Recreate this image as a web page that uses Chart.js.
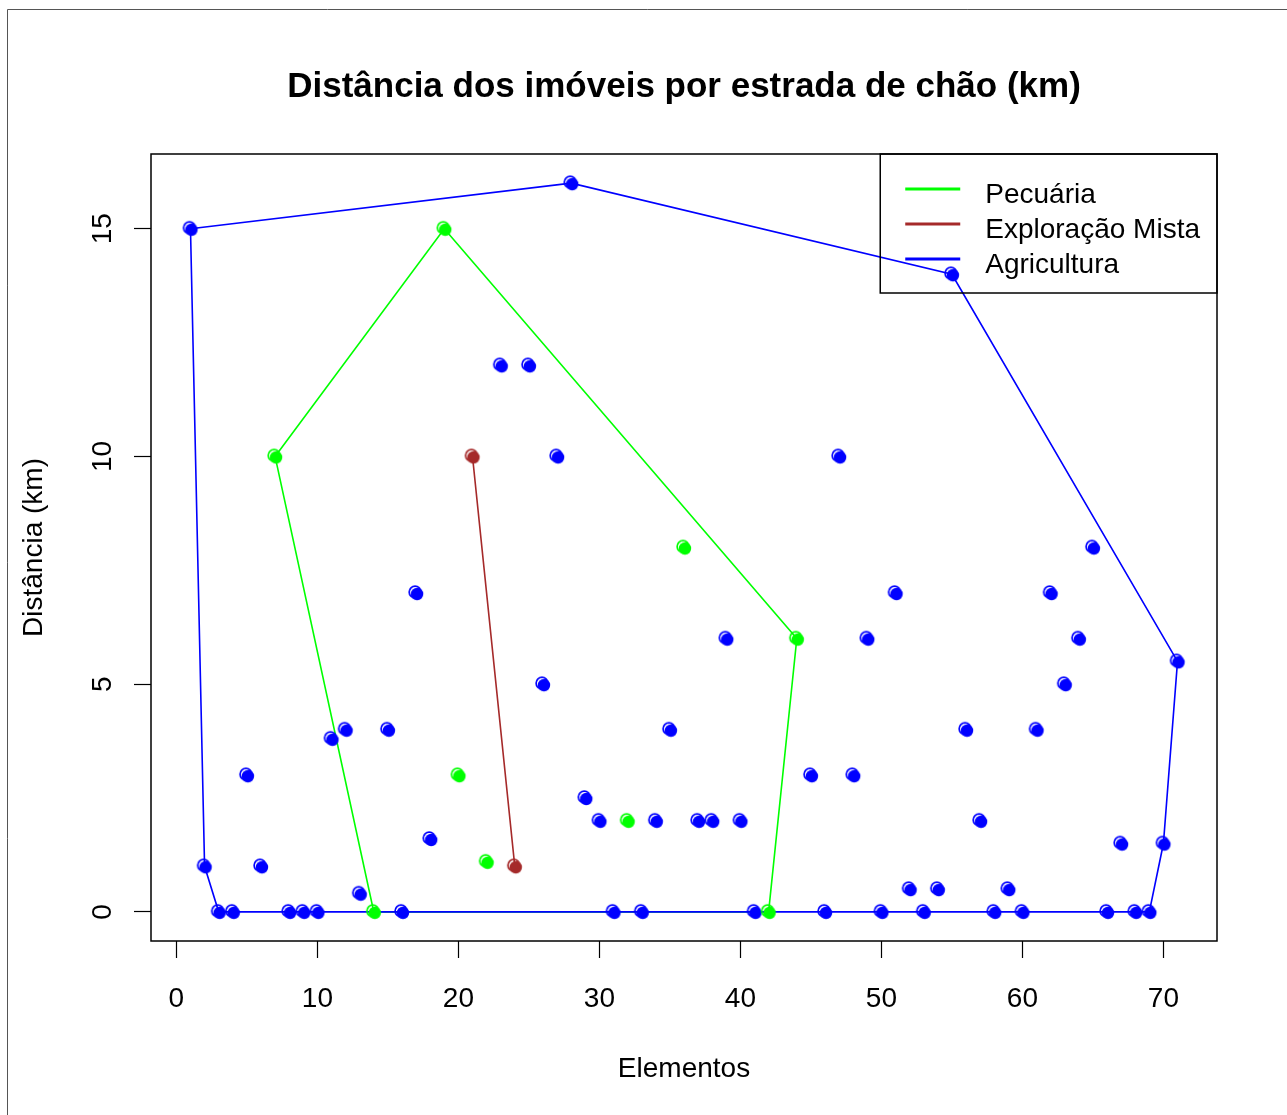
<!DOCTYPE html>
<html>
<head>
<meta charset="utf-8">
<title>Distância dos imóveis por estrada de chão (km)</title>
<script src="https://cdn.jsdelivr.net/npm/chart.js@4/dist/chart.umd.min.js"></script>
<style>
  html, body { margin: 0; padding: 0; background: #fff; }
  #wrap { position: relative; width: 1287px; height: 1115px; }
  canvas { display: block; }
</style>
</head>
<body>
<div id="wrap"><canvas id="c" width="1287" height="1115"></canvas></div>
<script>
// Elemento (índice do imóvel), distância por estrada de chão (km) e atividade
const elementos = [1, 2, 3, 4, 5, 6, 7, 8, 9, 10, 11, 12, 13, 14, 15, 16, 17, 18, 19, 20,
  21, 22, 23, 24, 25, 26, 27, 28, 29, 30, 31, 32, 33, 34, 35, 36, 37, 38, 39, 40,
  41, 42, 44, 45, 46, 47, 48, 49, 50, 51, 52, 53, 54, 55, 56, 57, 58, 59, 60,
  61, 62, 63, 64, 65, 66, 67, 68, 69, 70, 71];
const distancia = [15, 1, 0, 0, 3, 1, 10, 0, 0, 0, 3.8, 4, 0.4, 0, 4, 0, 7, 1.6, 15, 3,
  10, 1.1, 12, 1, 12, 5, 10, 16, 2.5, 2, 0, 2, 0, 2, 4, 8, 2, 2, 6, 2,
  0, 0, 6, 3, 0, 10, 3, 6, 0, 7, 0.5, 0, 0.5, 14, 4, 2, 0, 0.5, 0,
  4, 7, 5, 6, 8, 0, 1.5, 0, 0, 1.5, 5.5];
const atividade = ['A', 'A', 'A', 'A', 'A', 'A', 'P', 'A', 'A', 'A', 'A', 'A', 'A', 'P', 'A', 'A', 'A', 'A', 'P', 'P',
  'M', 'P', 'A', 'M', 'A', 'A', 'A', 'A', 'A', 'A', 'A', 'P', 'A', 'A', 'A', 'P', 'A', 'A', 'A', 'A',
  'A', 'P', 'P', 'A', 'A', 'A', 'A', 'A', 'A', 'A', 'A', 'A', 'A', 'A', 'A', 'A', 'A', 'A', 'A',
  'A', 'A', 'A', 'A', 'A', 'A', 'A', 'A', 'A', 'A', 'A'];

const grupos = ['Pecuária', 'Exploração Mista', 'Agricultura'];
const codigos = ['P', 'M', 'A'];
const cores = ['#00FF00', '#A52A2A', '#0000FF'];

const xTicks = [0, 10, 20, 30, 40, 50, 60, 70];
const yTicks = [0, 5, 10, 15];

const FONTE = "'Liberation Sans', Arial, Helvetica, sans-serif";

// Convex hull (monotone chain), returned as a closed ring
function envoltoria(pts) {
  const p = pts.slice().sort((a, b) => a.x - b.x || a.y - b.y);
  if (p.length < 3) return p.concat(p.length ? [p[0]] : []);
  const cross = (o, a, b) => (a.x - o.x) * (b.y - o.y) - (a.y - o.y) * (b.x - o.x);
  const lower = [], upper = [];
  for (const q of p) {
    while (lower.length >= 2 && cross(lower[lower.length - 2], lower[lower.length - 1], q) <= 0) lower.pop();
    lower.push(q);
  }
  for (let i = p.length - 1; i >= 0; i--) {
    const q = p[i];
    while (upper.length >= 2 && cross(upper[upper.length - 2], upper[upper.length - 1], q) <= 0) upper.pop();
    upper.push(q);
  }
  upper.pop(); lower.pop();
  const h = lower.concat(upper);
  return h.concat([h[0]]);
}

// Marker: outlined ring with an offset filled disc (glossy look)
function marcador(cor) {
  const c = document.createElement('canvas');
  c.width = 20; c.height = 20;
  const g = c.getContext('2d');
  g.fillStyle = cor;
  g.beginPath(); g.arc(11.0, 11.0, 6.2, 0, Math.PI * 2); g.fill();
  g.strokeStyle = cor; g.lineWidth = 1.7;
  g.beginPath(); g.arc(9.0, 9.0, 5.9, 0, Math.PI * 2); g.stroke();
  return c;
}

// Hull lines drawn beneath the points; Agricultura's hull on top of the others
const ordemLinha = { P: 5, M: 4, A: 3 };

const datasets = [];
codigos.forEach((cod, i) => {
  const pts = [];
  elementos.forEach((e, k) => { if (atividade[k] === cod) pts.push({ x: e, y: distancia[k] }); });
  datasets.push({
    label: grupos[i] + ' (envoltória)',
    data: envoltoria(pts),
    showLine: true,
    borderColor: cores[i],
    borderWidth: 1.6,
    pointRadius: 0,
    fill: false,
    order: ordemLinha[cod]
  });
  datasets.push({
    label: grupos[i],
    data: pts,
    showLine: false,
    pointStyle: marcador(cores[i]),
    pointRadius: 7,
    order: 1
  });
});

// Outer frame, plot box and legend box
const molduras = {
  id: 'molduras',
  beforeDraw(chart) {
    const ctx = chart.ctx;
    ctx.save();
    ctx.fillStyle = '#fff';
    ctx.fillRect(0, 0, chart.width, chart.height);
    ctx.strokeStyle = '#555';
    ctx.lineWidth = 1;
    ctx.beginPath();
    ctx.moveTo(7.5, chart.height);
    ctx.lineTo(7.5, 9.5);
    ctx.lineTo(chart.width, 9.5);
    ctx.stroke();
    ctx.restore();
  },
  afterDraw(chart) {
    const ctx = chart.ctx;
    const a = chart.chartArea;
    ctx.save();
    ctx.strokeStyle = '#000';
    ctx.lineWidth = 1.5;
    ctx.strokeRect(a.left, a.top, a.right - a.left, a.bottom - a.top);

    // legend
    ctx.font = '28px ' + FONTE;
    let maxW = 0;
    grupos.forEach(g => { maxW = Math.max(maxW, ctx.measureText(g).width); });
    const w = 105 + maxW + 17;
    const h = 139;
    const x0 = a.right - w, y0 = a.top;
    ctx.lineWidth = 1.5;
    ctx.strokeRect(x0, y0, w, h);
    grupos.forEach((g, i) => {
      const y = y0 + 35 + i * 35;
      ctx.strokeStyle = cores[i];
      ctx.lineWidth = 3;
      ctx.beginPath();
      ctx.moveTo(x0 + 25, y);
      ctx.lineTo(x0 + 80, y);
      ctx.stroke();
      ctx.fillStyle = '#000';
      ctx.textBaseline = 'middle';
      ctx.textAlign = 'left';
      ctx.fillText(g, x0 + 105, y + 6);
    });
    ctx.restore();
  }
};

new Chart(document.getElementById('c'), {
  type: 'scatter',
  data: { datasets },
  plugins: [molduras],
  options: {
    responsive: false,
    animation: false,
    devicePixelRatio: 1,
    layout: { padding: { top: 0, right: 70, bottom: 0, left: 0 } },
    plugins: {
      legend: { display: false },
      tooltip: { enabled: false },
      title: {
        display: true,
        fullSize: false,
        text: 'Distância dos imóveis por estrada de chão (km)',
        color: '#000',
        font: { family: FONTE, size: 35, weight: 'bold', lineHeight: 1.2 },
        padding: { top: 66, bottom: 46 }
      }
    },
    scales: {
      x: {
        type: 'linear',
        min: -1.8,
        max: 73.8,
        afterBuildTicks: s => { s.ticks = xTicks.map(v => ({ value: v })); },
        afterFit: s => { s.height = 174; },
        border: { display: false },
        grid: { drawOnChartArea: false, drawTicks: true, tickLength: 17, color: '#000', tickWidth: 1.2 },
        ticks: { color: '#000', font: { family: FONTE, size: 28 }, padding: 24, maxRotation: 0, includeBounds: false },
        title: {
          display: true, text: 'Elementos', color: '#000',
          font: { family: FONTE, size: 28, lineHeight: 1.2 },
          padding: { top: 0, bottom: 29 }
        }
      },
      y: {
        type: 'linear',
        min: -0.64,
        max: 16.64,
        afterBuildTicks: s => { s.ticks = yTicks.map(v => ({ value: v })); },
        afterFit: s => { s.width = 151; },
        border: { display: false },
        grid: { drawOnChartArea: false, drawTicks: true, tickLength: 17, color: '#000', tickWidth: 1.2 },
        ticks: { color: '#000', font: { family: FONTE, size: 28 }, padding: 15, minRotation: 90, maxRotation: 90, crossAlign: 'center', includeBounds: false },
        title: {
          display: true, text: 'Distância (km)', color: '#000',
          font: { family: FONTE, size: 28, lineHeight: 1.2 },
          padding: { top: 17, bottom: 0 }
        }
      }
    }
  }
});
</script>
</body>
</html>
